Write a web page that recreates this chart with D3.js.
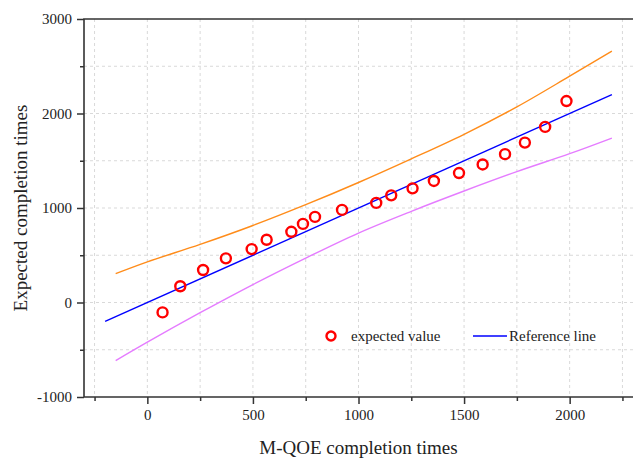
<!DOCTYPE html>
<html>
<head>
<meta charset="utf-8">
<script src="https://cdn.jsdelivr.net/npm/d3@7"></script>
<style>
  body { margin: 0; background: #fff; }
  svg { display: block; font-family: "Liberation Serif", "Times New Roman", serif; }
  .grid line { stroke: #d9d9d9; stroke-dasharray: 3,3; stroke-width: 1; }
  .axis text { font-family: "Liberation Serif", serif !important; }
</style>
</head>
<body>
<div id="d3-container"></div>
<script>
/* CONSTANTS AND GLOBALS */
const width = 633,
  height = 458,
  margin = { top: 19, bottom: 60, left: 84, right: 0 };

// expected values (scatter)
const pointX = [72, 156, 264, 372, 494, 565, 682, 737, 794, 922, 1084, 1155, 1256, 1357, 1476, 1588, 1694, 1788, 1884, 1985];
const pointY = [-105, 172, 344, 467, 565, 664, 748, 832, 906, 980, 1054, 1134, 1208, 1286, 1370, 1461, 1570, 1692, 1858, 2132];

// reference line y = x
const refX = [-200, 2200];
const refY = [-200, 2200];

// upper / lower bands
const bandX = [-150, 0, 250, 500, 750, 1000, 1250, 1500, 1750, 2000, 2200];
const upperY = [305, 430, 615, 815, 1035, 1270, 1520, 1780, 2070, 2395, 2660];
const lowerY = [-615, -420, -108, 190, 470, 735, 965, 1180, 1385, 1575, 1740];

const xMajor = [0, 500, 1000, 1500, 2000];
const xMinor = [-250, 250, 750, 1250, 1750, 2250];
const yMajor = [-1000, 0, 1000, 2000, 3000];
const yMinor = [-500, 500, 1500, 2500];

let svg, xScale, yScale;

init();

function init() {
  svg = d3.select("#d3-container")
    .append("svg")
    .attr("width", width)
    .attr("height", height);

  xScale = d3.scaleLinear()
    .domain([-300, 2300])
    .range([margin.left, width - margin.right]);

  yScale = d3.scaleLinear()
    .domain([-1000, 3000])
    .range([height - margin.bottom - 1, margin.top]);

  const x0 = margin.left, x1 = width - margin.right;
  const y0 = yScale(-1000), y1 = yScale(3000);

  // grid
  const grid = svg.append("g").attr("class", "grid");
  grid.selectAll("line.gx")
    .data(xMajor.concat(xMinor))
    .join("line")
    .attr("class", "gx")
    .attr("x1", d => xScale(d)).attr("x2", d => xScale(d))
    .attr("y1", y1).attr("y2", y0);
  grid.selectAll("line.gy")
    .data(yMajor.concat(yMinor).filter(d => d > -1000 && d < 3000))
    .join("line")
    .attr("class", "gy")
    .attr("x1", x0).attr("x2", x1)
    .attr("y1", d => yScale(d)).attr("y2", d => yScale(d));

  // lines
  const line = d3.line().x(d => xScale(d[0])).y(d => yScale(d[1]));
  const curve = d3.line().x(d => xScale(d[0])).y(d => yScale(d[1])).curve(d3.curveCatmullRom);

  svg.append("path")
    .attr("d", curve(d3.zip(bandX, upperY)))
    .attr("fill", "none").attr("stroke", "#ff8c1a").attr("stroke-width", 1.4);
  svg.append("path")
    .attr("d", curve(d3.zip(bandX, lowerY)))
    .attr("fill", "none").attr("stroke", "#e57cff").attr("stroke-width", 1.4);
  svg.append("path")
    .attr("d", line(d3.zip(refX, refY)))
    .attr("fill", "none").attr("stroke", "#0000ff").attr("stroke-width", 1.4);

  // points
  svg.selectAll(".dot")
    .data(d3.zip(pointX, pointY))
    .join("circle")
    .attr("class", "dot")
    .attr("cx", d => xScale(d[0]))
    .attr("cy", d => yScale(d[1]))
    .attr("r", 5)
    .attr("fill", "none")
    .attr("stroke", "#ff0000")
    .attr("stroke-width", 2.4);

  // axes
  const fmt = d => String(d);
  const xAxis = d3.axisBottom(xScale).tickValues(xMajor).tickSize(7).tickPadding(5).tickFormat(fmt);
  const xAxisMinor = d3.axisBottom(xScale).tickValues(xMinor).tickSize(4).tickFormat("");
  const yAxis = d3.axisLeft(yScale).tickValues(yMajor).tickSize(7).tickPadding(5).tickFormat(fmt);
  const yAxisMinor = d3.axisLeft(yScale).tickValues(yMinor).tickSize(4).tickFormat("");

  const styleAxis = g => {
    g.select(".domain").remove();
    g.attr("font-family", "'Liberation Serif', serif").attr("font-size", 15);
    g.selectAll("line").attr("stroke", "#333").attr("stroke-width", 1.5);
    g.selectAll("text").attr("fill", "#222");
  };

  svg.append("g").attr("class", "axis x-axis")
    .attr("transform", `translate(0,${y0})`)
    .call(xAxis).call(styleAxis);
  svg.append("g").attr("class", "axis x-axis")
    .attr("transform", `translate(0,${y0})`)
    .call(xAxisMinor).call(styleAxis);
  svg.append("g").attr("class", "axis y-axis")
    .attr("transform", `translate(${x0},0)`)
    .call(yAxis).call(styleAxis);
  svg.append("g").attr("class", "axis y-axis")
    .attr("transform", `translate(${x0},0)`)
    .call(yAxisMinor).call(styleAxis);

  // frame
  svg.append("path")
    .attr("d", `M${x1},${y1}H${x0}V${y0}H${x1}`)
    .attr("fill", "none").attr("stroke", "#333").attr("stroke-width", 1.6);

  // axis titles
  svg.append("text")
    .attr("x", (x0 + x1) / 2)
    .attr("y", 454)
    .attr("text-anchor", "middle")
    .attr("font-size", 19)
    .attr("fill", "#222")
    .text("M-QOE completion times");
  svg.append("text")
    .attr("transform", `translate(27,${(y0 + y1) / 2}) rotate(-90)`)
    .attr("text-anchor", "middle")
    .attr("font-size", 19)
    .attr("fill", "#222")
    .text("Expected completion times");

  // legend
  const legend = svg.append("g").attr("transform", "translate(331,336)");
  legend.append("circle").attr("r", 4.5).attr("fill", "none").attr("stroke", "#ff0000").attr("stroke-width", 2.4);
  legend.append("text").attr("x", 20).attr("y", 5).attr("font-size", 15).attr("fill", "#222").text("expected value");
  legend.append("line").attr("x1", 142).attr("x2", 176).attr("stroke", "#0000ff").attr("stroke-width", 1.4);
  legend.append("text").attr("x", 178).attr("y", 5).attr("font-size", 15).attr("fill", "#222").text("Reference line");
}
</script>
</body>
</html>
